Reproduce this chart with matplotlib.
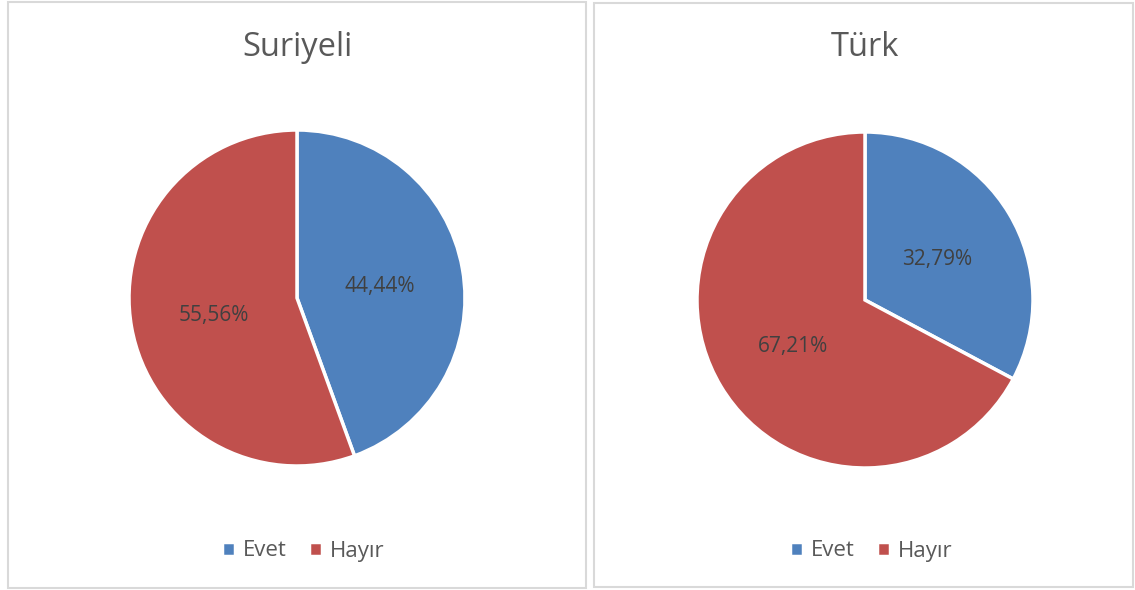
import matplotlib.pyplot as plt
from matplotlib.patches import Rectangle
import matplotlib.transforms as mtransforms

labels = ['Evet', 'Hayır']
groups = ['Suriyeli', 'Türk']
values = {
    'Suriyeli': [44.44, 55.56],
    'Türk': [32.79, 67.21],
}
colors = ['#4F81BD', '#C0504D']
text_col = '#595959'

plt.rcParams['font.family'] = ['Open Sans', 'DejaVu Sans']

W, H = 1135, 590
fig = plt.figure(figsize=(W / 100, H / 100), dpi=100)

# panel boxes (pixels: x0, y0top, x1, y1bottom)
boxes = [(8, 2, 586, 588), (594, 3, 1133, 587)]
centers = [(297, 298), (865, 300)]
R = 168

for (x0, y0, x1, y1) in boxes:
    fig.add_artist(Rectangle((x0 / W, 1 - y1 / H), (x1 - x0) / W, (y1 - y0) / H,
                             transform=fig.transFigure, fill=False,
                             edgecolor='#D9D9D9', linewidth=1.5))

for name, (cx, cy), (x0, y0, x1, y1) in zip(groups, centers, boxes):
    ax = fig.add_axes([(cx - R) / W, 1 - (cy + R) / H, 2 * R / W, 2 * R / H])
    wedges, texts, autotexts = ax.pie(
        values[name], colors=colors, startangle=90, counterclock=False,
        autopct=lambda p: ('%.2f%%' % p).replace('.', ','), pctdistance=0.5,
        radius=1, wedgeprops=dict(edgecolor='white', linewidth=2.5),
        textprops=dict(color='#404040', fontsize=15))
    ax.set_xlim(-1, 1)
    ax.set_ylim(-1, 1)
    ax.set_aspect('equal')
    ax.axis('off')
    for w in wedges:
        w.set_clip_on(False)
    # nudge labels down a little
    shift = mtransforms.ScaledTranslation(0, -3 / 100, fig.dpi_scale_trans)
    for t in autotexts:
        t.set_transform(t.get_transform() + shift)
    fig.text(cx / W, 1 - 47 / H, name, ha='center', va='center',
             fontsize=23.5, color=text_col)
    fig.legend(wedges, labels, loc='center', ncol=2,
               bbox_to_anchor=((cx + 6) / W, 1 - 551 / H),
               frameon=False, fontsize=16, handlelength=0.6, handleheight=0.6,
               handletextpad=0.35, columnspacing=1.0, labelcolor=text_col)

fig.savefig('out.png', dpi=100)
